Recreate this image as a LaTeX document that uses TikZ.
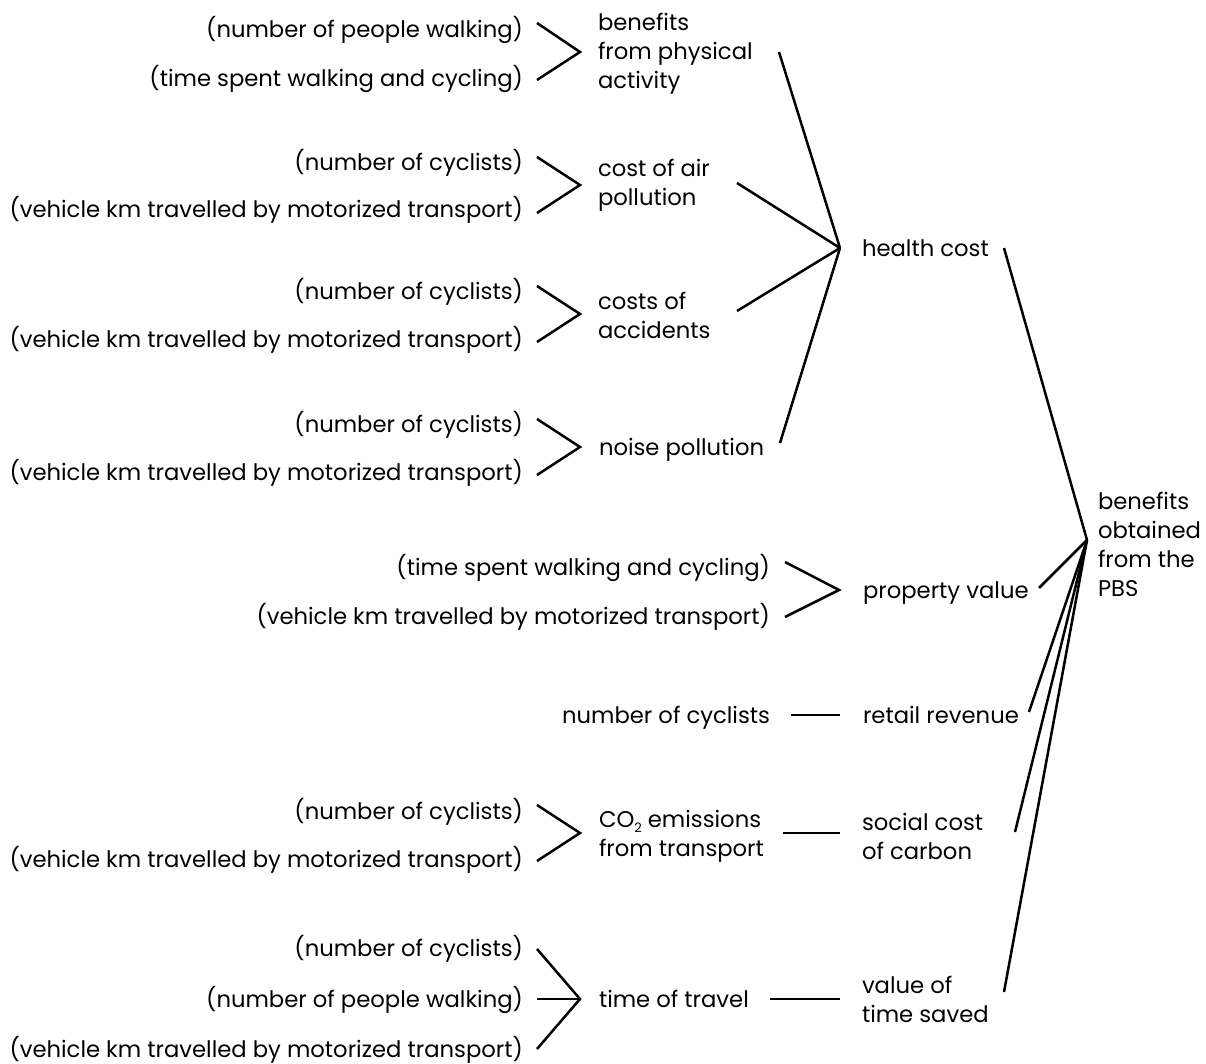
\documentclass[tikz,border=0pt]{standalone}
\usepackage{fontspec}
\setmainfont{Poppins}
\newcommand{\subtwo}{\raisebox{-0.45ex}{\fontsize{6.5pt}{6.5pt}\selectfont 2}}
\begin{document}
\begin{tikzpicture}[x=0.5pt,y=-0.5pt,
  every node/.style={inner sep=0pt, outer sep=0pt, font=\fontsize{11.35pt}{14.5pt}\selectfont},
  lbl/.style={anchor=mid east, yshift=-1.6pt},
  slbl/.style={anchor=mid west, yshift=-1.6pt},
  mlbl/.style={anchor=west, align=left, yshift=-1.6pt},
  link/.style={line width=1.25pt, line cap=butt, line join=miter}]
\useasboundingbox (0,0) rectangle (1206,1064);
% hubs
\coordinate (hub1) at (840,248);
\coordinate (hub2) at (1087,540);
% group 1
\coordinate (g1) at (580,52);
\node[lbl] (g1a) at (523,29) {(number of people walking)};
\node[lbl] (g1b) at (523,78) {(time spent walking and cycling)};
\node[mlbl] (phys) at (598,51) {benefits\\from physical\\activity};
\draw[link] ([shift={(14,-6)},yshift=1.6pt]g1a.mid east) -- (g1) -- ([shift={(14,2)},yshift=1.6pt]g1b.mid east);
\draw[link] ([shift={(181,1)},yshift=1.6pt]phys.west) -- (hub1);
% group 2
\coordinate (g2) at (580,185);
\node[lbl] (g2a) at (523,162) {(number of cyclists)};
\node[lbl] (g2b) at (523,209) {(vehicle km travelled by motorized transport)};
\node[mlbl] (air) at (598,182) {cost of air\\pollution};
\draw[link] ([shift={(14,-5)},yshift=1.6pt]g2a.mid east) -- (g2) -- ([shift={(14,4)},yshift=1.6pt]g2b.mid east);
\draw[link] ([shift={(139,1)},yshift=1.6pt]air.west) -- (hub1);
% group 3
\coordinate (g3) at (580,314);
\node[lbl] (g3a) at (523,291) {(number of cyclists)};
\node[lbl] (g3b) at (523,339) {(vehicle km travelled by motorized transport)};
\node[mlbl] (acc) at (598,312) {costs of\\accidents};
\draw[link] ([shift={(14,-5)},yshift=1.6pt]g3a.mid east) -- (g3) -- ([shift={(14,3)},yshift=1.6pt]g3b.mid east);
\draw[link] ([shift={(139,-1)},yshift=1.6pt]acc.west) -- (hub1);
% group 4
\coordinate (g4) at (580,447);
\node[lbl] (g4a) at (523,424) {(number of cyclists)};
\node[lbl] (g4b) at (523,472) {(vehicle km travelled by motorized transport)};
\node[slbl] (noise) at (599,447) {noise pollution};
\draw[link] ([shift={(14,-5)},yshift=1.6pt]g4a.mid east) -- (g4) -- ([shift={(14,3)},yshift=1.6pt]g4b.mid east);
\draw[link] ([shift={(181,-4)},yshift=1.6pt]noise.mid west) -- (hub1);
% health cost
\node[slbl] (health) at (862,248) {health cost};
\draw[link] ([shift={(142,0)},yshift=1.6pt]health.mid west) -- (hub2);
% PBS
\node[mlbl] (pbs) at (1098,541) {benefits\\obtained\\from the\\PBS};
% group 5
\coordinate (g5) at (839,590);
\node[lbl] (g5a) at (770,567) {(time spent walking and cycling)};
\node[lbl] (g5b) at (770,616) {(vehicle km travelled by motorized transport)};
\node[slbl] (prop) at (863,590) {property value};
\draw[link] ([shift={(15,-5)},yshift=1.6pt]g5a.mid east) -- (g5) -- ([shift={(15,1)},yshift=1.6pt]g5b.mid east);
\draw[link] ([shift={(176,-2)},yshift=1.6pt]prop.mid west) -- (hub2);
% group 6
\node[lbl] (ncyc) at (770,715) {number of cyclists};
\node[slbl] (retail) at (863,715) {retail revenue};
\draw[link] ([shift={(21,0)},yshift=1.6pt]ncyc.mid east) -- ([shift={(-23,0)},yshift=1.6pt]retail.mid west);
\draw[link] ([shift={(166,-3)},yshift=1.6pt]retail.mid west) -- (hub2);
% group 7
\coordinate (g7) at (580,833);
\node[lbl] (g7a) at (523,811) {(number of cyclists)};
\node[lbl] (g7b) at (523,859) {(vehicle km travelled by motorized transport)};
\node[mlbl] (co2) at (599,833) {CO\subtwo{} emissions\\from transport};
\node[mlbl] (social) at (862,833) {social cost\\of carbon};
\draw[link] ([shift={(14,-6)},yshift=1.6pt]g7a.mid east) -- (g7) -- ([shift={(14,2)},yshift=1.6pt]g7b.mid east);
\draw[link] ([shift={(184,0)},yshift=1.6pt]co2.west) -- ([shift={(-22,0)},yshift=1.6pt]social.west);
\draw[link] ([shift={(153,-1)},yshift=1.6pt]social.west) -- (hub2);
% group 8
\coordinate (g8) at (580,999);
\node[lbl] (g8a) at (523,948) {(number of cyclists)};
\node[lbl] (g8b) at (523,999) {(number of people walking)};
\node[lbl] (g8c) at (523,1049) {(vehicle km travelled by motorized transport)};
\node[slbl] (travel) at (599,999) {time of travel};
\node[mlbl] (saved) at (862,996) {value of\\time saved};
\draw[link] ([shift={(14,1)},yshift=1.6pt]g8a.mid east) -- (g8) -- ([shift={(14,0)},yshift=1.6pt]g8c.mid east);
\draw[link] ([shift={(14,0)},yshift=1.6pt]g8b.mid east) -- (g8);
\draw[link] ([shift={(171,0)},yshift=1.6pt]travel.mid west) -- ([shift={(-22,3)},yshift=1.6pt]saved.west);
\draw[link] ([shift={(142,-4)},yshift=1.6pt]saved.west) -- (hub2);
\end{tikzpicture}
\end{document}
